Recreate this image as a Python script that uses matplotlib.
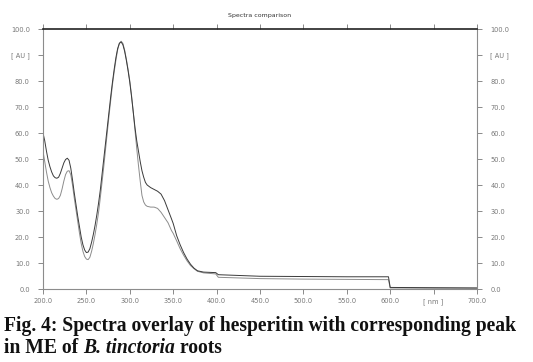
import matplotlib
matplotlib.use("Agg")
import matplotlib.pyplot as plt
import numpy as np

# wavelength grid (nm) and the two overlaid spectra (AU)
nm = [200, 202, 204, 206, 208, 210, 212, 214, 216, 218, 220, 222, 224, 226, 228,
      230, 232, 234, 236, 238, 240, 242, 244, 246, 248, 250, 252, 254, 256, 258,
      260, 262, 264, 266, 268, 270, 272, 274, 276, 278, 280, 282, 284, 286, 288,
      290, 292, 294, 296, 298, 300, 302, 304, 306, 308, 310, 312, 314, 316, 318,
      320, 324, 328, 332, 336, 340, 344, 348, 350, 354, 358, 362, 366, 370, 374,
      378, 385, 392, 399, 402, 450, 500, 550, 598, 600, 650, 700]

hesperitin = [60, 57, 53, 49.5, 47, 45, 43.5, 42.8, 42.6, 43, 44.5, 46.5, 48.5, 49.8, 50.3,
              49.5, 46.5, 42, 37, 32.5, 28, 24, 20, 17, 15, 14, 14.2, 15.5, 18, 21,
              24.5, 28.5, 33, 38, 44, 50, 56, 62, 68, 74, 79.5, 84.5, 89, 92.5, 94.5,
              95, 94, 91.5, 88, 84, 79.5, 74, 68, 62, 57, 53, 49, 45.5, 43, 41,
              40, 39, 38.3, 37.6, 36.5, 34, 30.5, 27, 25.2, 20.5, 17, 14, 11.5, 9.5, 8,
              7, 6.5, 6.4, 6.3, 5.5, 4.9, 4.8, 4.7, 4.7, 0.6, 0.5, 0.4]

me_peak = [53, 49, 45, 41.5, 39, 37, 35.7, 34.8, 34.5, 34.8, 36, 38.5, 41.5, 44, 45.3,
           45.5, 44, 40, 35, 30.5, 26, 21.5, 17.5, 14.5, 12.5, 11.5, 11.3, 12.2, 14.5, 17.5,
           21, 25, 29.5, 35, 41, 47, 53.5, 60, 66.5, 72.5, 78.5, 83.5, 88, 92, 94.5,
           95.3, 94.5, 92, 88.5, 84.5, 80, 74.5, 68, 61, 54, 47.5, 41.5, 36, 33.5, 32.3,
           31.8, 31.5, 31.5, 31, 29.5, 27.5, 25.5, 22.5, 21.4, 18.5, 15.5, 13, 10.8, 9, 7.8,
           6.8, 6.2, 6.0, 5.8, 4.5, 4.0, 3.8, 3.7, 3.6, 0.4, 0.3, 0.3]

xticks = [200, 250, 300, 350, 400, 450, 500, 550, 600, 650, 700]
xlabels = ["200.0", "250.0", "300.0", "350.0", "400.0", "450.0", "500.0",
           "550.0", "600.0", "[ nm ]", "700.0"]
yticks = [0, 10, 20, 30, 40, 50, 60, 70, 80, 90, 100]
ylabels = ["0.0", "10.0", "20.0", "30.0", "40.0", "50.0", "60.0", "70.0",
           "80.0", "[ AU ]", "100.0"]

W, H = 533, 362
fig = plt.figure(figsize=(W / 100, H / 100), dpi=100)
ax = fig.add_axes([43 / W, 1 - 289 / H, (477 - 43) / W, (289 - 29) / H])

ax.plot(nm, me_peak, color="#8c8c8c", lw=0.7)
ax.plot(nm, hesperitin, color="#3a3a3a", lw=0.7)

ax.set_xlim(200, 700)
ax.set_ylim(0, 100)
ax.set_xticks(xticks)
ax.set_xticklabels(xlabels)
ax.set_yticks(yticks)
ax.set_yticklabels(ylabels)
ax.tick_params(axis="both", direction="out", length=3.5, width=0.6, colors="#777777",
               labelsize=4.8, pad=6)
ax.tick_params(axis="y", right=True, labelright=True)
ax.tick_params(axis="x", top=True, labeltop=False, pad=3)
for s in ["left", "right", "bottom"]:
    ax.spines[s].set_color("#8c8c8c")
    ax.spines[s].set_linewidth(0.8)
ax.spines["top"].set_color("#222222")
ax.spines["top"].set_linewidth(1.2)

fig.text(260 / W, 1 - 15 / H, "Spectra comparison", ha="center", va="center",
         fontsize=4.5, color="#333333")

# caption, with the species name in italics
cap = dict(family="Liberation Serif", weight="bold", fontsize=14.1, color="#111111")
fig.text(4 / W, 1 - 331 / H, "Fig. 4: Spectra overlay of hesperitin with corresponding peak",
         ha="left", va="baseline", **cap)
fig.canvas.draw()
r = fig.canvas.get_renderer()
x = 4
for txt, st in [("in ME of ", "normal"), ("B. tinctoria", "italic"), (" roots", "normal")]:
    t = fig.text(x / W, 1 - 353 / H, txt, ha="left", va="baseline", style=st, **cap)
    x += t.get_window_extent(r).width

fig.savefig("out.png", dpi=100)
